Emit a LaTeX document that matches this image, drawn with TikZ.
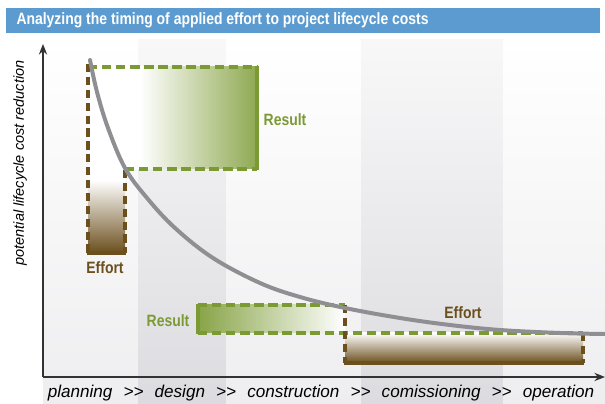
\documentclass[tikz,border=0pt]{standalone}
\usepackage{fontspec}
\setmainfont{Liberation Sans}
\usetikzlibrary{arrows.meta}
\definecolor{titleblue}{HTML}{5B9BD0}
\definecolor{effbrown}{HTML}{6B4F1D}
\definecolor{resgreen}{HTML}{7B9A33}
\definecolor{curvegray}{HTML}{8E8E93}
\definecolor{bandgray}{HTML}{DCDCE0}
\definecolor{bandlight}{HTML}{EEEEF0}
\begin{document}
\begin{tikzpicture}[x=0.03cm, y=-0.03cm,
  effdash/.style={draw=effbrown, line width=2.8pt, dash pattern=on 7pt off 4pt},
  resdash/.style={draw=resgreen, line width=2.8pt, dash pattern=on 8pt off 4pt},
  lbl/.style={font=\bfseries\fontsize{14}{14}\selectfont, xscale=0.85},
  axlbl/.style={font=\itshape\fontsize{12.4}{12.4}\selectfont}]

\useasboundingbox (0,0) rectangle (605,404);
\fill [white] (0,0) rectangle (605,404);

% phase bands
\shade [top color=white, bottom color=bandlight] (43,40) rectangle (138,404);
\shade [top color=white!60!bandlight, bottom color=bandgray] (138,40) rectangle (226,404);
\shade [top color=white, bottom color=bandlight] (226,40) rectangle (361,404);
\shade [top color=white!60!bandlight, bottom color=bandgray] (361,40) rectangle (503,404);
\shade [top color=white, bottom color=bandlight] (503,40) rectangle (605,404);

% title bar
\fill [titleblue] (6,8) rectangle (600,33);
\node [lbl, anchor=west, text=white] (title) at (13,20.5) {Analyzing the timing of applied effort to project lifecycle costs};

% early effort and result
\fill [white] (88,67) rectangle (140,169);
\shade [left color=white, right color=resgreen!85] (140,67) rectangle (257,169);
\shade [top color=white, bottom color=effbrown] (88,180) rectangle (125,253);
\fill [white] (88,169) rectangle (125,180);

% late result and effort
\shade [left color=resgreen!90, right color=white] (198,305) rectangle (345,333);
\shade [top color=white, bottom color=effbrown] (345,333) rectangle (583,363);

\draw [resdash] (88,67) -- (257,67);
\draw [resdash] (125,169) -- (257,169);
\draw [resgreen, line width=3.5pt] (257,66) -- (257,170);
\draw [effdash] (88,64) -- (88,253);
\draw [effdash] (125,170) -- (125,253);
\draw [effbrown, line width=3.5pt] (87,253) -- (126,253);

\draw [resdash] (198,305) -- (345,305);
\draw [resdash] (198,333) -- (583,333);
\draw [resgreen, line width=3.5pt] (198,304) -- (198,334);
\draw [effdash] (345,305) -- (345,363);
\draw [effdash] (583,333) -- (583,363);
\draw [effbrown, line width=3.5pt] (344,363) -- (584,363);

% cost curve
\draw [curvegray, line width=3.4pt, line cap=round] plot [smooth, tension=0.6] coordinates
  {(90,60) (97,92) (108,128) (125,168) (147,198) (175,228) (213,258) (260,283) (300,297) (345,308) (400,318) (450,325) (500,330) (560,333) (605,334)};

% axes
\draw [-{Stealth[length=9pt, width=7pt]}, line width=1.7pt, black!80] (43,377) -- (43,44);
\draw [-{Stealth[length=9pt, width=7pt]}, line width=1.7pt, black!80] (43,377) -- (605,377);

\node [lbl, text=effbrown] (effort1) at (105,268) {Effort};
\node [lbl, text=resgreen] (result1) at (285,120) {Result};
\node [lbl, text=resgreen] (result2) at (168,321) {Result};
\node [lbl, text=effbrown] (effort2) at (463,313) {Effort};

\node [axlbl, rotate=90] (ylabel) at (20,163) {potential lifecycle cost reduction};
\node [axlbl, font=\itshape\fontsize{14.6}{14.6}\selectfont] (xlabel) at (321,393) {planning\hspace{9.5pt}>{}>\hspace{9.5pt}design\hspace{9.5pt}>{}>\hspace{9.5pt}construction\hspace{9.5pt}>{}>\hspace{9.5pt}comissioning\hspace{9.5pt}>{}>\hspace{9.5pt}operation};
\end{tikzpicture}
\end{document}
